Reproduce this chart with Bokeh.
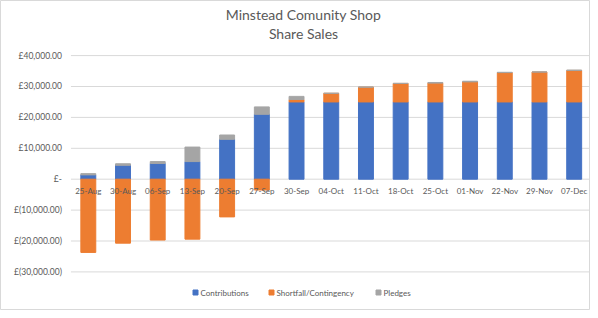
from bokeh.plotting import figure
from bokeh.models import ColumnDataSource, Range1d
from bokeh.core.properties import value
from bokeh.embed import file_html
from bokeh.resources import INLINE

dates = ["25-Aug", "30-Aug", "06-Sep", "13-Sep", "20-Sep", "27-Sep", "30-Sep", "04-Oct",
         "11-Oct", "18-Oct", "25-Oct", "01-Nov", "22-Nov", "29-Nov", "07-Dec"]
contributions = [1400, 4500, 5100, 5700, 12900, 21000, 25000, 25000,
                 25000, 25000, 25000, 25000, 25000, 25000, 25000]
shortfall = [-23700, -20700, -19700, -19400, -12200, -3500, 800, 2800,
             4800, 6000, 6100, 6500, 9500, 9700, 10200]
pledges = [400, 500, 600, 4700, 1400, 2400, 1000, 0,
           0, 0, 200, 200, 100, 0, 100]
y_ticks = [-30000, -20000, -10000, 0, 10000, 20000, 30000, 40000]
y_tick_labels = ["£(30,000.00)", "£(20,000.00)", "£(10,000.00)", "£-",
                 "£10,000.00", "£20,000.00", "£30,000.00", "£40,000.00"]
title_lines = ["Minstead Comunity Shop", "Share Sales"]
series_names = ["Contributions", "Shortfall/Contingency", "Pledges"]

BLUE, ORANGE, GRAY = "#4472C4", "#ED7D31", "#A5A5A5"
TXT = "#595959"
GRID = "#d9d9d9"
FONT = value("Lato")

n = len(dates)
xs = list(range(n))
s_bottom = [c if s > 0 else 0 for c, s in zip(contributions, shortfall)]
s_top = [b + s for b, s in zip(s_bottom, shortfall)]
p_bottom = [c + max(s, 0) for c, s in zip(contributions, shortfall)]
p_top = [b + p for b, p in zip(p_bottom, pledges)]

src = ColumnDataSource(dict(x=xs, label=dates, cb=[0] * n, ct=contributions, sb=s_bottom, st=s_top,
                            pb=p_bottom, pt=p_top, zero=[0] * n))

FW, FH = 590, 310
# plot area covers the whole figure; ranges chosen so the category band matches the layout
X0, X1 = -2.53, n - 0.53
Y0, Y1 = -42490, 57830
p = figure(x_range=Range1d(X0, X1), y_range=Range1d(Y0, Y1),
           width=FW, height=FH, output_backend="svg", toolbar_location=None,
           min_border_left=0, min_border_right=0, min_border_top=0, min_border_bottom=0)
p.axis.visible = False
p.grid.visible = False
p.outline_line_color = GRID
p.background_fill_color = "white"

# gridlines at the tick values
p.segment(x0=[-0.5] * len(y_ticks), x1=[n - 0.5] * len(y_ticks), y0=y_ticks, y1=y_ticks,
          line_color=GRID, line_width=1)

W = 0.43
p.vbar(x="x", bottom="cb", top="ct", width=W, color=BLUE, source=src)
p.vbar(x="x", bottom="sb", top="st", width=W, color=ORANGE, source=src)
p.vbar(x="x", bottom="pb", top="pt", width=W, color=GRAY, source=src)

# category labels along the zero line
p.text(x="x", y="zero", text="label", source=src, text_align="center", text_baseline="middle",
       y_offset=12, text_font_size="8px", text_font=FONT, text_color=TXT)

# value-axis labels
p.text(x=[-0.5] * len(y_ticks), y=y_ticks, text=y_tick_labels, text_align="right",
       text_baseline="middle", x_offset=-9, text_font_size="8.5px", text_font=FONT, text_color=TXT)

# title
xc = (X0 + X1) / 2
for i, line in enumerate(title_lines):
    p.text(x=[xc], y=[Y1], text=[line], text_align="center", text_baseline="middle",
           x_offset=8, y_offset=14 + 19 * i, text_font_size="14px", text_font=FONT, text_color=TXT)

# legend (pixel offsets converted to data units for the square markers)
ppx = FW / (X1 - X0)
ppy = FH / (Y1 - Y0)
colors = [BLUE, ORANGE, GRAY]
sq_off = [-100, -24, 83]
for name, col, off in zip(series_names, colors, sq_off):
    p.scatter(x=[xc + off / ppx], y=[Y0 + 18 / ppy], marker="square", size=5, color=col)
    p.text(x=[xc], y=[Y0], text=[name], text_align="left", text_baseline="middle",
           x_offset=off + 5, y_offset=-18, text_font_size="8px", text_font=FONT, text_color=TXT)

open("out.html", "w").write(file_html(p, INLINE))
